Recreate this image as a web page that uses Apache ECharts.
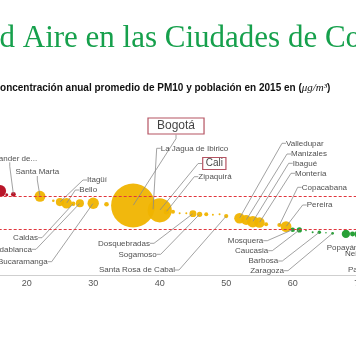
<!DOCTYPE html>
<html>
<head>
<meta charset="utf-8">
<script src="https://cdn.jsdelivr.net/npm/echarts@6/dist/echarts.min.js"></script>
<style>
html,body{margin:0;padding:0;width:356px;height:364px;overflow:hidden;background:#fff;position:relative;}
#c{position:absolute;left:-200px;top:0;width:760px;height:364px;}
</style>
</head>
<body>
<div id="c"></div>
<script>
// ---- data ----
const ranks = [16, 17, 18, 22, 24, 25, 26, 27, 28, 30, 32, 36, 39, 40, 41, 42, 43, 44, 45, 46, 47, 48, 49, 50, 52, 53, 54, 55, 56, 58, 59, 60, 61, 62, 63, 64, 65, 66, 68, 69, 70, 71];
const cities = ['', '', 'Santander de Quilichao', 'Santa Marta', '', 'Itagüí', 'Bello', 'Caldas', 'Floridablanca', 'Bucaramanga', '', 'Bogotá', 'La Jagua de Ibirico', 'Cali', 'Zipaquirá', '', '', '', 'Dosquebradas', 'Sogamoso', '', '', '', 'Santa Rosa de Cabal', 'Valledupar', 'Manizales', 'Ibagué', 'Montería', '', 'Copacabana', 'Pereira', 'Mosquera', 'Caucasia', '', '', 'Barbosa', '', 'Zaragoza', 'Popayán', '', 'Neiva', 'Palmira'];
const pm10 = [53.2, 51.0, 51.2, 50.0, 47.3, 46.5, 45.8, 45.5, 45.8, 45.8, 45.2, 44.4, 41.8, 41.5, 40.7, 40.7, 39.7, 39.7, 39.5, 39.1, 39.1, 38.8, 39.1, 38.0, 36.7, 35.6, 34.6, 34.1, 33.0, 32.6, 31.6, 29.8, 29.6, 29.3, 28.2, 28.2, 27.9, 27.6, 27.2, 27.2, 27.0, 26.8];
const population = [586000, 36600, 94000, 483865, 27500, 270920, 464560, 78793, 265905, 528575, 86600, 7878783, 22800, 2369821, 122347, 65000, 16000, 16000, 198877, 114213, 65000, 16000, 16000, 72477, 453205, 397466, 553524, 447651, 65000, 70158, 472023, 82750, 111601, 10000, 16000, 49991, 10000, 30713, 277270, 101000, 342117, 304735];
const thresholds = [50, 30];
const xTicks = [0, 80, 10]; // min, max, interval

// ---- layout / style (page coordinates of labels) ----
const OFF = 200;
const labelPos = {
  'Santander de Quilichao': [9.75, 158.3, 'center'],
  'Santa Marta': [37.3, 172, 'center'],
  'Itagüí': [87, 180, 'left'],
  'Bello': [79.3, 190, 'left'],
  'Caldas': [38, 237.7, 'right'],
  'Floridablanca': [32, 249.3, 'right'],
  'Bucaramanga': [47.7, 261.7, 'right'],
  'Bogotá': [148, 126, 'left'],
  'La Jagua de Ibirico': [160.7, 148.3, 'left'],
  'Cali': [202.7, 163.5, 'left'],
  'Zipaquirá': [198.3, 176.7, 'left'],
  'Dosquebradas': [150, 243.3, 'right'],
  'Sogamoso': [156.7, 254.3, 'right'],
  'Santa Rosa de Cabal': [175, 270, 'right'],
  'Valledupar': [286, 143.3, 'left'],
  'Manizales': [291, 154, 'left'],
  'Ibagué': [292.7, 163.3, 'left'],
  'Montería': [295, 173.3, 'left'],
  'Copacabana': [301.7, 187.3, 'left'],
  'Pereira': [306.7, 205, 'left'],
  'Mosquera': [263.3, 240.7, 'right'],
  'Caucasia': [268.3, 250.7, 'right'],
  'Barbosa': [278.3, 261, 'right'],
  'Zaragoza': [284, 270.7, 'right'],
  'Popayán': [326.7, 247.5, 'left'],
  'Neiva': [345, 254, 'left'],
  'Palmira': [348, 270, 'left']
};
const noLine = {'Popayán':1, 'Neiva':1, 'Palmira':1};
const boxStyle = {
  'Bogotá': {fontSize: 12, padding: [2, 9], borderColor: '#a3283b', borderWidth: 1.2, color: '#111'},
  'Cali': {fontSize: 10, padding: [1, 3], borderColor: '#a3283b', borderWidth: 1.2, color: '#111'},
  'Santander de Quilichao': {width: 56, overflow: 'truncate', ellipsis: '...'}
};

const bubbleData = ranks.map((r, i) => ({name: cities[i], value: [r, pm10[i], population[i]]}));
const labelData = [];
ranks.forEach((r, i) => {
  const n = cities[i];
  if (n && labelPos[n]) {
    const item = {name: n, value: [r, pm10[i]]};
    if (boxStyle[n]) item.label = Object.assign({}, boxStyle[n]);
    if (noLine[n]) item.labelLine = {show: false};
    labelData.push(item);
  }
});

const chart = echarts.init(document.getElementById('c'), null, {renderer: 'canvas'});
chart.setOption({
  animation: false,
  textStyle: {fontFamily: '"Liberation Sans", Arial, sans-serif'},
  title: [
    {text: 'Calidad Aire en las Ciudades de Colombia', left: 118.6, top: 23, padding: 0,
     textStyle: {fontFamily: '"Liberation Serif", serif', fontSize: 31, fontWeight: 'normal', color: '#16a04c'}},
    {text: 'Concentración anual promedio de PM10 y población en 2015 en ({m|μg/m³})', left: 192.8, top: 83, padding: 0,
     textStyle: {fontSize: 10, fontWeight: 'bold', color: '#111',
       rich: {m: {fontFamily: '"Liberation Serif", serif', fontStyle: 'italic', fontSize: 11, fontWeight: 'normal', color: '#111'}}}}
  ],
  grid: {left: 93.7, right: 134.3, top: 97.3, bottom: 88.5},
  visualMap: {show: false, seriesIndex: 0, dimension: 1, pieces: [
    {gt: thresholds[0], color: '#b5091e'},
    {gt: thresholds[1], lte: thresholds[0], color: '#f0b400'},
    {lte: thresholds[1], color: '#1c9b2c'}
  ]},
  xAxis: {type: 'value', min: xTicks[0], max: xTicks[1], interval: xTicks[2],
    axisLine: {show: true, lineStyle: {color: '#cfcfcf', width: 1}},
    axisTick: {show: false}, splitLine: {show: false},
    axisLabel: {color: '#555', fontSize: 9, margin: 4}},
  yAxis: {type: 'value', min: 2, max: 110, show: false, splitLine: {show: false}},
  series: [
    {type: 'scatter', z: 2, data: bubbleData,
     symbolSize: v => 44 * Math.sqrt(v[2] / 7878783),
     itemStyle: {opacity: 0.95},
     emphasis: {disabled: true},
     markLine: {silent: true, symbol: 'none', label: {show: false},
       lineStyle: {color: '#e0343c', type: [3, 2], width: 1},
       data: thresholds.map(t => ({yAxis: t}))}
    },
    {type: 'scatter', z: 3, data: labelData, symbolSize: 1,
     itemStyle: {color: 'rgba(0,0,0,0)'},
     emphasis: {disabled: true},
     label: {show: true, formatter: '{b}', fontSize: 8, color: '#222'},
     labelLine: {show: true, showAbove: true, length2: 4, lineStyle: {color: '#8a8a8a', width: 0.8}},
     labelLayout: function (p) {
       const n = labelData[p.dataIndex].name;
       const pos = labelPos[n];
       return {x: pos[0] + OFF, y: pos[1], align: pos[2], verticalAlign: 'middle'};
     }
    }
  ]
});
</script>
</body>
</html>
